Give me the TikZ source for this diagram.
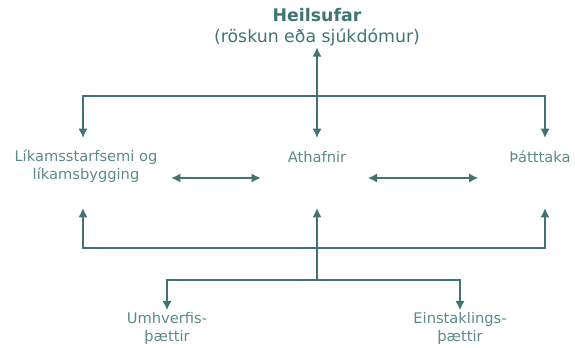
\documentclass[tikz,border=0pt]{standalone}
\usepackage{fontspec}
\setmainfont{DejaVu Sans}
\usepackage{tikz}
\usetikzlibrary{calc}
\usetikzlibrary{arrows.meta}
\usetikzlibrary{positioning}
\definecolor{tealline}{RGB}{64,116,116}
\definecolor{tealtext}{RGB}{92,138,138}
\tikzset{>={Latex[length=7pt,width=7pt]}}
\tikzstyle{lbl} = [rectangle, draw=none, text=tealtext, align=center, inner sep=1pt, font=\fontsize{11}{13.5}\selectfont]
\tikzstyle{con} = [draw=tealline, line width=1.5pt]

\begin{document}
\begin{tikzpicture}[x=0.75pt, y=-0.75pt]
\useasboundingbox (0,0) rectangle (575,347);
\node [lbl, text=tealline, font=\fontsize{13}{15.5}\selectfont] (heil) at (317,27) {\textbf{Heilsufar}\\(röskun eða sjúkdómur)};
\node [lbl] (lik) at (86,166) {Líkamsstarfsemi og\\líkamsbygging};
\node [lbl] (ath) at (317,157) {Athafnir};
\node [lbl] (thatt) at (540,157) {Þátttaka};
\node [lbl] (umh) at (167,328) {Umhverfis-\\þættir};
\node [lbl] (einst) at (460,328) {Einstaklings-\\þættir};
\coordinate (tl) at (83,96);
\coordinate (tr) at (545,96);
\coordinate (rowt) at (317,138);
\coordinate (rowb) at (317,208);
\coordinate (bl) at (83,248);
\coordinate (br) at (545,248);
\coordinate (lb) at (317,280);
\coordinate (mid) at (317,178);
% upper level
\draw [<->, con] (heil) -- (ath |- rowt);
\draw [<->, con] (tl |- rowt) -- (tl) -- (tr) -- (tr |- rowt);
% between the three
\draw [<->, con, shorten <=9pt, shorten >=19pt] (lik.east |- mid) -- (ath.west |- mid);
\draw [<->, con, shorten <=15pt, shorten >=22pt] (ath.east |- mid) -- (thatt.west |- mid);
% lower level
\draw [<->, con] (bl |- rowb) -- (bl) -- (br) -- (br |- rowb);
\draw [->, con] (lb) -- (rowb);
\draw [<->, con] (umh.north) |- (lb) -| (einst.north);
\end{tikzpicture}
\end{document}
